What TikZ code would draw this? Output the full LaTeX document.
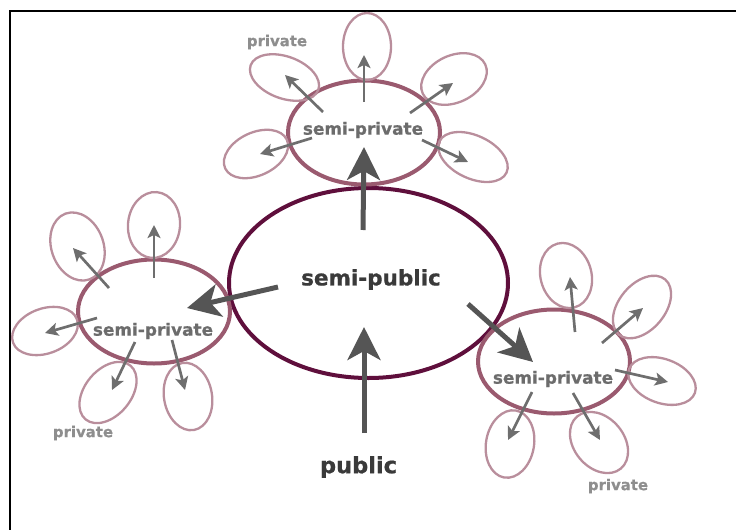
\documentclass[tikz,border=0pt]{standalone}
\usepackage{fontspec}
\setmainfont{DejaVu Sans}
\newfontfamily\heavyfont{DejaVu Sans Bold}[FakeBold=0.7]
\usetikzlibrary{arrows.meta,shapes.geometric}
\definecolor{mainring}{HTML}{5F0F3C}
\definecolor{semiring}{HTML}{9A5A6F}
\definecolor{privring}{HTML}{B98E9C}
\definecolor{smallarrow}{HTML}{6E6E6E}
\definecolor{bigarrow}{HTML}{555555}
\definecolor{darktext}{HTML}{3A3A3A}
\definecolor{semitext}{HTML}{6C6C6C}
\definecolor{privtext}{HTML}{8E8E8E}
\begin{document}
\begin{tikzpicture}[x=1pt,y=-1pt,
  mainell/.style={ellipse,draw=mainring,line width=4pt,inner sep=0pt},
  semiell/.style={ellipse,draw=semiring,line width=4pt,inner sep=0pt,minimum width=152pt,minimum height=104pt},
  privell/.style={ellipse,draw=privring,line width=2.3pt,inner sep=0pt},
  bigtext/.style={font=\fontsize{21.5}{26}\heavyfont,text=darktext,inner sep=0pt},
  semilabel/.style={font=\fontsize{16.9}{20}\heavyfont,text=semitext,inner sep=0pt},
  privlabel/.style={font=\fontsize{14.9}{18}\heavyfont,text=privtext,inner sep=0pt},
  smallarr/.style={draw=smallarrow,line width=2.7pt,-{Stealth[length=13pt,width=13pt,inset=3pt]}},
  bigarr/.style={draw=bigarrow,line width=5pt,-{Stealth[length=33pt,width=33pt,inset=9pt]}}
]
\useasboundingbox (0,0) rectangle (736,530);
% frame
\draw[line width=2.5pt] (736,11) -- (10,11) -- (10,530);

% main ellipse
\node[mainell,minimum width=279pt,minimum height=190pt] (spub) at (368.5,283) {};

% semi-private ellipses
\node[semiell] (semiT) at (364,132.5) {};
\node[semiell] (semiL) at (154,311.5) {};
\node[semiell] (semiR) at (554,361.5) {};

% private ellipses: top group
\node[privell,minimum width=48pt,minimum height=67pt] (t1) at (367,46.5) {};
\node[privell,minimum width=72pt,minimum height=42pt,rotate=-20] (t2) at (284.5,77.5) {};
\node[privell,minimum width=69pt,minimum height=47pt,rotate=25] (t3) at (454,79) {};
\node[privell,minimum width=68pt,minimum height=43pt,rotate=25] (t4) at (256,154) {};
\node[privell,minimum width=74pt,minimum height=43pt,rotate=-25] (t5) at (473,157) {};
% left group
\node[privell,minimum width=52pt,minimum height=66pt,rotate=-5] (l1) at (154,225) {};
\node[privell,minimum width=52pt,minimum height=70pt,rotate=20] (l2) at (77.5,246.5) {};
\node[privell,minimum width=68pt,minimum height=45pt,rotate=20] (l3) at (45,331) {};
\node[privell,minimum width=46pt,minimum height=70pt,rotate=-40] (l4) at (108,392.5) {};
\node[privell,minimum width=48pt,minimum height=68pt,rotate=10] (l5) at (188,396.5) {};
% right group
\node[privell,minimum width=51pt,minimum height=66pt,rotate=15] (r1) at (566,275.5) {};
\node[privell,minimum width=46pt,minimum height=72pt,rotate=-40] (r2) at (642,307) {};
\node[privell,minimum width=70pt,minimum height=44pt,rotate=-20] (r3) at (662,381) {};
\node[privell,minimum width=48pt,minimum height=68pt,rotate=-10] (r4) at (510,444) {};
\node[privell,minimum width=50pt,minimum height=68pt,rotate=40] (r5) at (599,442.5) {};

% arrow coordinates
\coordinate (aT1s) at (364,102); \coordinate (aT1e) at (364,55);
\coordinate (aT2s) at (323,112); \coordinate (aT2e) at (285,75);
\coordinate (aT3s) at (410,113); \coordinate (aT3e) at (453,83);
\coordinate (aT4s) at (312,138); \coordinate (aT4e) at (260,154);
\coordinate (aT5s) at (422,140); \coordinate (aT5e) at (468,162);

\coordinate (aL1s) at (154,278); \coordinate (aL1e) at (154,225);
\coordinate (aL2s) at (109,288); \coordinate (aL2e) at (73,248);
\coordinate (aL3s) at (97,318);  \coordinate (aL3e) at (45,333);
\coordinate (aL4s) at (135,342); \coordinate (aL4e) at (112,390);
\coordinate (aL5s) at (172,340); \coordinate (aL5e) at (185,390);

\coordinate (aR1s) at (575,332); \coordinate (aR1e) at (570,277);
\coordinate (aR2s) at (602,343); \coordinate (aR2e) at (643,308);
\coordinate (aR3s) at (615,370); \coordinate (aR3e) at (668,382);
\coordinate (aR4s) at (532,392); \coordinate (aR4e) at (508,440);
\coordinate (aR5s) at (573,393); \coordinate (aR5e) at (600,440);

\coordinate (bUs) at (363,230); \coordinate (bUe) at (364,147);
\coordinate (bLs) at (278,287); \coordinate (bLe) at (187,308);
\coordinate (bRs) at (468,304); \coordinate (bRe) at (533,362);
\coordinate (bPs) at (364,433); \coordinate (bPe) at (364,327);

% small arrows
\foreach \g in {T,L,R}{
  \foreach \i in {1,...,5}{
    \draw[smallarr] (a\g\i s) -- (a\g\i e);
  }
}
% big arrows
\draw[bigarr] (bUs) -- (bUe);
\draw[bigarr] (bLs) -- (bLe);
\draw[bigarr] (bRs) -- (bRe);
\draw[bigarr] (bPs) -- (bPe);

% labels
\node[bigtext] (tspub) at (371,279.5) {semi-public};
\node[bigtext,font=\fontsize{22.5}{27}\heavyfont] (tpub) at (358.5,467) {public};
\node[semilabel] (tsemiT) at (363,130) {semi-private};
\node[semilabel] (tsemiL) at (153,331) {semi-private};
\node[semilabel] (tsemiR) at (553,379) {semi-private};
\node[privlabel] (tprivT) at (277,42) {private};
\node[privlabel] (tprivL) at (83,433) {private};
\node[privlabel] (tprivR) at (618,486) {private};
\end{tikzpicture}
\end{document}
